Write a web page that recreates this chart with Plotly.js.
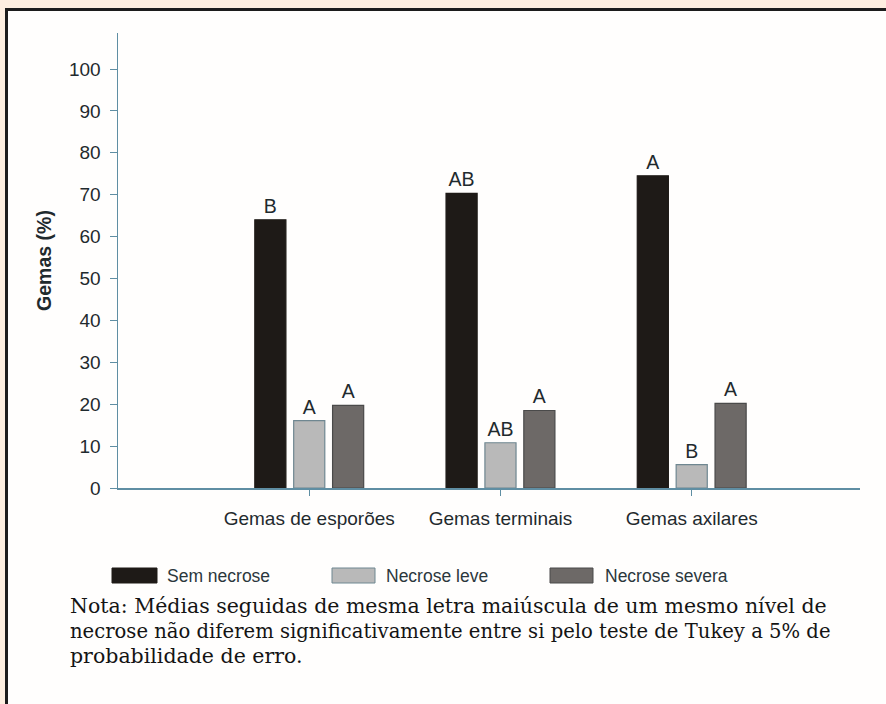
<!DOCTYPE html>
<html>
<head>
<meta charset="utf-8">
<script src="https://cdn.plot.ly/plotly-3.0.1.min.js"></script>
<style>
  html, body { margin: 0; padding: 0; width: 886px; height: 704px; overflow: hidden; background: #fdeee0; }
  #frame { position: absolute; left: 5px; top: 8px; width: 900px; height: 720px;
           border-top: 3px solid #1c1c1c; border-left: 3px solid #1c1c1c; background: #fffefd; }
  #chart { position: absolute; left: 0; top: 0; width: 886px; height: 704px; }
</style>
</head>
<body>
<div id="frame"></div>
<div id="chart"></div>
<script>
// ---- data ----
const categories = ['Gemas de esporões', 'Gemas terminais', 'Gemas axilares'];
const seriesNames = ['Sem necrose', 'Necrose leve', 'Necrose severa'];
const semNecrose = [64.0, 70.3, 74.5];
const necroseLeve = [16.1, 10.8, 5.6];
const necroseSevera = [19.7, 18.5, 20.2];
const letrasSem = ['B', 'AB', 'A'];
const letrasLeve = ['A', 'AB', 'B'];
const letrasSevera = ['A', 'A', 'A'];
const yTickValues = [0, 10, 20, 30, 40, 50, 60, 70, 80, 90, 100];
const yTitle = 'Gemas (%)';
const noteLines = [
  'Nota: Médias seguidas de mesma letra maiúscula de um mesmo nível de',
  'necrose não diferem significativamente entre si pelo teste de Tukey a 5% de',
  'probabilidade de erro.'
];

// ---- styling ----
const fills = ['#1e1a17', '#b9b9b9', '#6d6967'];
const outlines = ['#1e1a17', '#6f8791', '#4a4a4a'];
const axisColor = '#5f8ea3';
const textColor = '#1f2a2e';
const sans = 'Arial, "Liberation Sans", sans-serif';

const L = 118, R = 860, T = 33, B = 488, W = 886, H = 704;
const px2x = px => (px - L) / (R - L);
const py2y = py => (B - py) / (B - T);

const valueSets = [semNecrose, necroseLeve, necroseSevera];
const letterSets = [letrasSem, letrasLeve, letrasSevera];

const traces = valueSets.map((vals, i) => ({
  type: 'bar',
  name: seriesNames[i],
  x: categories,
  y: vals,
  text: letterSets[i],
  textposition: 'outside',
  constraintext: 'none',
  textfont: { family: sans, size: 19.5, color: textColor },
  cliponaxis: false,
  marker: { color: fills[i], line: { color: outlines[i], width: 1.2 } },
  hoverinfo: 'x+y+name',
  showlegend: false
}));

// manual legend (wide swatches like the reference)
const legendBoxes = [[112, 157], [332, 375], [550, 593]];
const legendTextX = [165, 384, 603];
const shapes = [];
const annotations = [];
legendBoxes.forEach((b, i) => {
  shapes.push({
    type: 'rect', xref: 'paper', yref: 'paper',
    x0: px2x(b[0]), x1: px2x(b[1]), y0: py2y(583), y1: py2y(568),
    fillcolor: fills[i], line: { color: outlines[i], width: 1 }
  });
  annotations.push({
    xref: 'paper', yref: 'paper', x: px2x(legendTextX[i]), y: py2y(576),
    xanchor: 'left', yanchor: 'middle', showarrow: false,
    text: seriesNames[i], font: { family: sans, size: 17.5, color: '#2b373c' }
  });
});

const noteY = [606, 631, 656];
const noteSize = [20.5, 19.6, 20.5];
noteLines.forEach((line, i) => {
  annotations.push({
    xref: 'paper', yref: 'paper', x: px2x(68), y: py2y(noteY[i]),
    xanchor: 'left', yanchor: 'middle', align: 'left', showarrow: false,
    text: line,
    font: { family: '"DejaVu Serif", "Liberation Serif", serif', size: noteSize[i], color: '#141414' }
  });
});

const layout = {
  width: W, height: H,
  margin: { l: L, r: W - R, t: T, b: H - B, pad: 0 },
  paper_bgcolor: 'rgba(0,0,0,0)',
  plot_bgcolor: 'rgba(0,0,0,0)',
  barmode: 'group',
  bargap: 0.39,
  bargroupgap: 0.2,
  font: { family: sans, color: textColor },
  xaxis: {
    type: 'category',
    categoryorder: 'array', categoryarray: categories,
    range: [-1, 2.88],
    showline: true, linecolor: axisColor, linewidth: 1.5,
    ticks: 'outside', ticklen: 6, tickcolor: axisColor, tickwidth: 1,
    tickfont: { family: sans, size: 19, color: textColor },
    ticklabelstandoff: 7,
    showgrid: false, zeroline: false, fixedrange: true
  },
  yaxis: {
    range: [0, 108.6],
    tickvals: yTickValues,
    showline: true, linecolor: axisColor, linewidth: 1.5,
    ticks: 'outside', ticklen: 7, tickcolor: axisColor, tickwidth: 1,
    tickfont: { family: sans, size: 19, color: textColor },
    ticklabelstandoff: 5,
    showgrid: false, zeroline: false, fixedrange: true,
    title: { text: '<b>' + yTitle + '</b>', font: { family: sans, size: 19.5, color: textColor }, standoff: 12 }
  },
  shapes: shapes,
  annotations: annotations,
  showlegend: false
};

Plotly.newPlot('chart', traces, layout, { displayModeBar: false, staticPlot: true });
</script>
</body>
</html>
